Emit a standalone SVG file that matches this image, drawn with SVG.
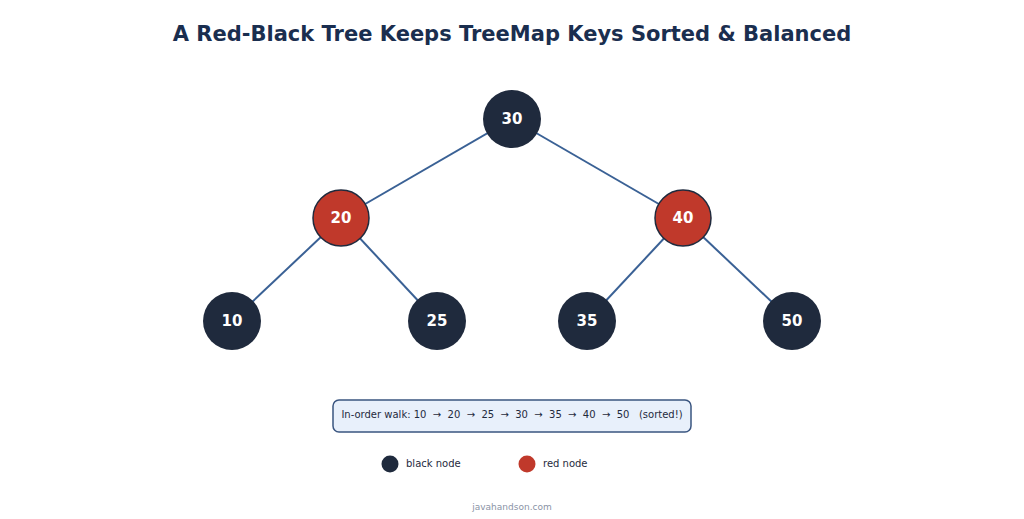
<svg xmlns="http://www.w3.org/2000/svg" width="1024" height="519" viewBox="0 0 1024 519">
<style>
.blk{fill:#1f2a3d}
.red{fill:#c0392b;stroke:#1f2a3d;stroke-width:1.5}
.lbl{font-family:"DejaVu Sans",sans-serif;font-weight:bold;font-size:15px;fill:#fff;text-anchor:middle}
.edge{stroke:#3a6195;stroke-width:2}
.sm{font-family:"DejaVu Sans",sans-serif;font-size:10px;fill:#1f2a3d}
</style>
<rect width="1024" height="519" fill="#fff"/>
<text x="512" y="41" text-anchor="middle" font-family="DejaVu Sans,sans-serif" font-weight="bold" font-size="21" fill="#1a2e4f">A Red-Black Tree Keeps TreeMap Keys Sorted &amp; Balanced</text>
<g id="connectors">
<line class="edge" x1="512" y1="119" x2="341" y2="218"/>
<line class="edge" x1="512" y1="119" x2="683" y2="218"/>
<line class="edge" x1="341" y1="218" x2="232" y2="321"/>
<line class="edge" x1="341" y1="218" x2="437" y2="321"/>
<line class="edge" x1="683" y1="218" x2="587" y2="321"/>
<line class="edge" x1="683" y1="218" x2="792" y2="321"/>
</g>
<g id="n30"><circle class="blk" cx="512" cy="119" r="29"/><text class="lbl" x="512" y="124">30</text></g>
<g id="n20"><circle class="red" cx="341" cy="218" r="28"/><text class="lbl" x="341" y="223">20</text></g>
<g id="n40"><circle class="red" cx="683" cy="218" r="28"/><text class="lbl" x="683" y="223">40</text></g>
<g id="n10"><circle class="blk" cx="232" cy="321" r="29"/><text class="lbl" x="232" y="326">10</text></g>
<g id="n25"><circle class="blk" cx="437" cy="321" r="29"/><text class="lbl" x="437" y="326">25</text></g>
<g id="n35"><circle class="blk" cx="587" cy="321" r="29"/><text class="lbl" x="587" y="326">35</text></g>
<g id="n50"><circle class="blk" cx="792" cy="321" r="29"/><text class="lbl" x="792" y="326">50</text></g>
<g id="walk">
<rect x="333" y="400" width="358" height="32" rx="6" fill="#e8f0fb" stroke="#3a5580" stroke-width="1.5"/>
<text class="sm" x="512" y="418" text-anchor="middle" xml:space="preserve">In-order walk: 10  →  20  →  25  →  30  →  35  →  40  →  50   (sorted!)</text>
</g>
<g id="legend">
<circle class="blk" cx="390" cy="464" r="8.5"/>
<text class="sm" x="406" y="467">black node</text>
<circle cx="527" cy="464" r="8.5" fill="#c0392b"/>
<text class="sm" x="543" y="467">red node</text>
</g>
<text x="512" y="510" text-anchor="middle" font-family="DejaVu Sans,sans-serif" font-size="9" fill="#8a93a6">javahandson.com</text>
</svg>
